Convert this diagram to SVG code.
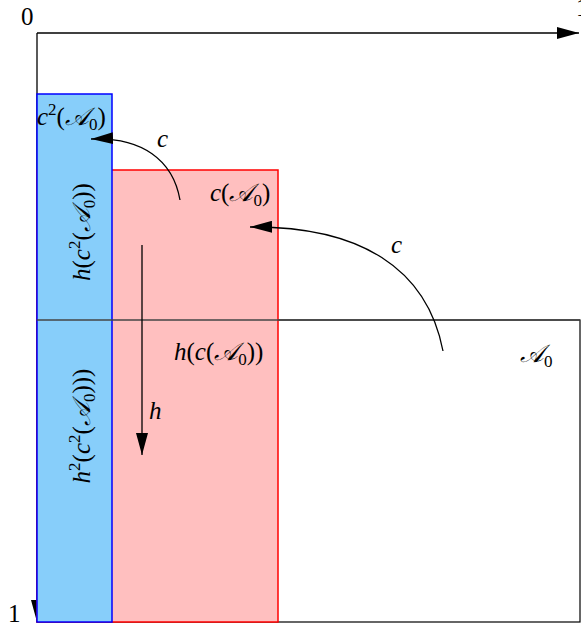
<svg xmlns="http://www.w3.org/2000/svg" width="581" height="633" viewBox="0 0 581 633">
<style>
text{font-family:"Liberation Serif","DejaVu Serif",serif;font-size:25px;fill:#000}
.m{font-style:italic}
.up{font-size:17px}
.ln{fill:none;stroke:#000;stroke-width:1.3}
</style>
<defs>
<marker id="ah" markerWidth="24" markerHeight="12" refX="22" refY="6" orient="auto" markerUnits="userSpaceOnUse">
<path d="M0,0 L22,6 L0,12 Z" fill="#000"/>
</marker>
</defs>
<rect width="581" height="633" fill="#fff"/>
<g id="axes">
<line class="ln" x1="37" y1="33" x2="579" y2="33" marker-end="url(#ah)"/>
<line class="ln" x1="37" y1="33" x2="37" y2="622" marker-end="url(#ah)"/>
<text x="21" y="25">0</text>
<text x="8" y="622">1</text>
<text x="576" y="16">1</text>
</g>
<g id="A0">
<rect x="37" y="320" width="543" height="302" fill="#fff" stroke="#000" stroke-width="1.2"/>
</g>
<g id="cA0">
<rect x="37" y="170" width="241" height="452" fill="#ffbfbf" stroke="#f00" stroke-width="1.5"/>
</g>
<g id="c2A0">
<rect x="37" y="94" width="75" height="528" fill="#87cefa" stroke="#00f" stroke-width="1.5"/>
</g>
<line x1="37" y1="320" x2="580" y2="320" stroke="#444" stroke-width="1.5"/>
<g id="connectors">
<path class="ln" d="M443,351 C427,268 360,226 250,227" marker-end="url(#ah)"/>
<path class="ln" d="M180,200 C173,160 142,137 91,139" marker-end="url(#ah)"/>
<line class="ln" x1="142" y1="245" x2="142" y2="455" marker-end="url(#ah)"/>
</g>
<g id="labels">
<text class="m" x="391" y="253">c</text>
<text class="m" x="157" y="147">c</text>
<text class="m" x="149" y="419">h</text>
<text x="37" y="125"><tspan class="m">c</tspan><tspan class="up" dy="-10">2</tspan><tspan dy="10">(</tspan><tspan class="m">𝒜</tspan><tspan class="up" dy="5">0</tspan><tspan dy="-5">)</tspan></text>
<text x="210" y="201"><tspan class="m">c</tspan>(<tspan class="m">𝒜</tspan><tspan class="up" dy="5">0</tspan><tspan dy="-5">)</tspan></text>
<text x="174" y="360"><tspan class="m">h</tspan>(<tspan class="m">c</tspan>(<tspan class="m">𝒜</tspan><tspan class="up" dy="5">0</tspan><tspan dy="-5">))</tspan></text>
<text x="520" y="362"><tspan class="m">𝒜</tspan><tspan class="up" dy="5">0</tspan></text>
<text transform="translate(90,232) rotate(-90)" text-anchor="middle"><tspan class="m">h</tspan>(<tspan class="m">c</tspan><tspan class="up" dy="-10">2</tspan><tspan dy="10">(</tspan><tspan class="m">𝒜</tspan><tspan class="up" dy="5">0</tspan><tspan dy="-5">))</tspan></text>
<text transform="translate(90,426) rotate(-90)" text-anchor="middle"><tspan class="m">h</tspan><tspan class="up" dy="-10">2</tspan><tspan dy="10">(</tspan><tspan class="m">c</tspan><tspan class="up" dy="-10">2</tspan><tspan dy="10">(</tspan><tspan class="m">𝒜</tspan><tspan class="up" dy="5">0</tspan><tspan dy="-5">)))</tspan></text>
</g>
</svg>
